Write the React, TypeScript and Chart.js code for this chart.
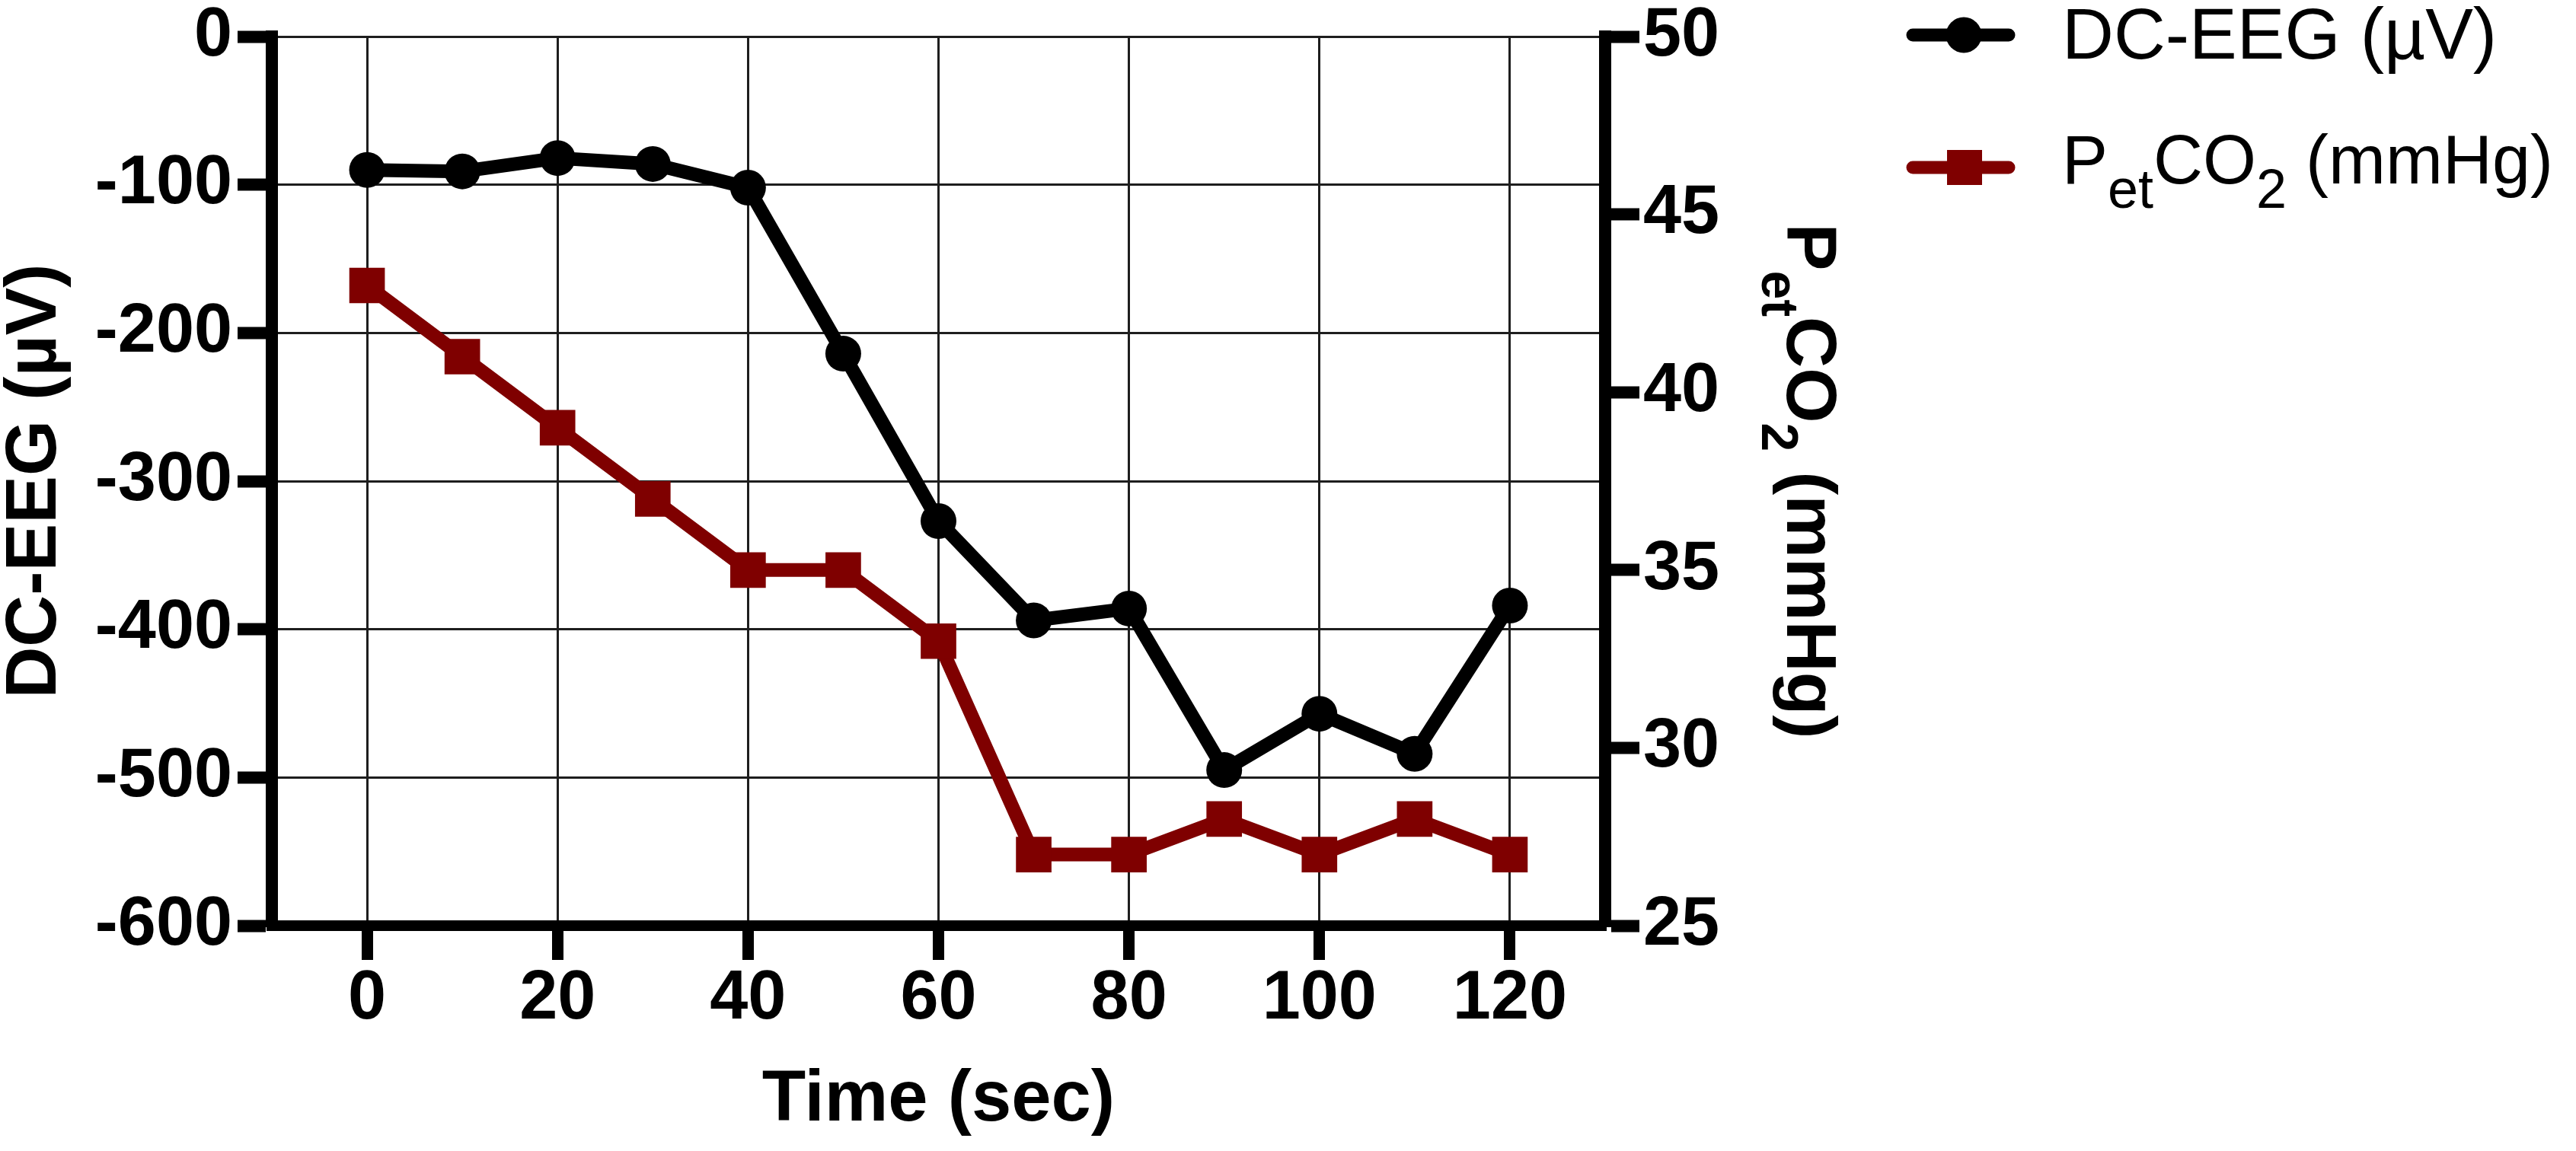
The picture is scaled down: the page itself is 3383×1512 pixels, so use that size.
import { useEffect, useRef } from "react";
import { Chart, registerables } from "chart.js";

Chart.register(...registerables);

// values
const TIME = [0, 10, 20, 30, 40, 50, 60, 70, 80, 90, 100, 110, 120];
const DC_EEG = [-90, -91, -82, -86, -102, -214, -327, -394, -386, -495, -457, -484, -384];
const PETCO2 = [43, 41, 39, 37, 35, 35, 33, 27, 27, 28, 27, 28, 27];

const X_TICKS = [0, 20, 40, 60, 80, 100, 120];
const EEG_TICKS = [-600, -500, -400, -300, -200, -100, 0];
const CO2_TICKS = [25, 30, 35, 40, 45, 50];

const FAMILY = "'Liberation Sans', Arial, Helvetica, sans-serif";
const RED = "#7f0000";
const GRID = "#1e1e1e";

type Run = { text: string; sub?: boolean };

const EEG_LABEL: Run[] = [{ text: "DC-EEG (µV)" }];
const CO2_LABEL: Run[] = [
  { text: "P" },
  { text: "et", sub: true },
  { text: "CO" },
  { text: "2", sub: true },
  { text: " (mmHg)" },
];

// text with subscripts, drawn from x along the baseline y
function drawRuns(ctx: CanvasRenderingContext2D, runs: Run[], x: number, y: number, main: string, sub: string, drop: number) {
  let cx = x;
  for (const r of runs) {
    ctx.font = r.sub ? sub : main;
    ctx.fillText(r.text, cx, r.sub ? y + drop : y);
    cx += ctx.measureText(r.text).width;
  }
}

function runsWidth(ctx: CanvasRenderingContext2D, runs: Run[], main: string, sub: string) {
  let w = 0;
  for (const r of runs) {
    ctx.font = r.sub ? sub : main;
    w += ctx.measureText(r.text).width;
  }
  return w;
}

const extras = {
  id: "extras",
  afterDraw(chart: Chart) {
    const { ctx, chartArea } = chart;
    const right = chartArea.right;
    const midY = (chartArea.top + chartArea.bottom) / 2;

    ctx.save();
    ctx.fillStyle = "#000";
    ctx.textBaseline = "alphabetic";
    ctx.textAlign = "left";

    // right axis title, rotated
    const tMain = `bold 93px ${FAMILY}`;
    const tSub = `bold 68px ${FAMILY}`;
    const tw = runsWidth(ctx, CO2_LABEL, tMain, tSub);
    ctx.translate(right + 239, midY);
    ctx.rotate(Math.PI / 2);
    drawRuns(ctx, CO2_LABEL, -tw / 2, 0, tMain, tSub, 33);
    ctx.restore();

    // legend
    ctx.save();
    const lx = right + 404;
    ctx.lineWidth = 17;
    ctx.lineCap = "round";

    ctx.strokeStyle = "#000";
    ctx.beginPath();
    ctx.moveTo(lx, 46);
    ctx.lineTo(lx + 126, 46);
    ctx.stroke();
    ctx.fillStyle = "#000";
    ctx.beginPath();
    ctx.arc(lx + 67, 46, 23.5, 0, Math.PI * 2);
    ctx.fill();
    drawRuns(ctx, EEG_LABEL, right + 600, 77, `94px ${FAMILY}`, `72px ${FAMILY}`, 32);

    ctx.strokeStyle = RED;
    ctx.beginPath();
    ctx.moveTo(lx, 220);
    ctx.lineTo(lx + 126, 220);
    ctx.stroke();
    ctx.fillStyle = RED;
    ctx.fillRect(lx + 68 - 23, 220 - 23, 46, 46);
    ctx.fillStyle = "#000";
    drawRuns(ctx, CO2_LABEL, right + 600, 241, `90px ${FAMILY}`, `72px ${FAMILY}`, 32);
    ctx.restore();
  },
};

const tickFont = { family: FAMILY, size: 90, weight: "bold" as const, lineHeight: 1 };
const titleFont = { family: FAMILY, size: 94, weight: "bold" as const, lineHeight: 1 };

export default function App() {
  const canvasRef = useRef<HTMLCanvasElement>(null);
  const chartRef = useRef<Chart | null>(null);

  useEffect(() => {
    document.body.style.margin = "0";
    if (!canvasRef.current) return;
    const ctx = canvasRef.current.getContext("2d");
    if (!ctx) return;

    chartRef.current = new Chart(ctx, {
      type: "line",
      data: {
        datasets: [
          {
            label: "DC-EEG (µV)",
            data: TIME.map((t, i) => ({ x: t, y: DC_EEG[i] })),
            yAxisID: "y",
            borderColor: "#000",
            backgroundColor: "#000",
            pointBackgroundColor: "#000",
            borderWidth: 18,
            borderJoinStyle: "round",
            pointRadius: 23.5,
            pointHoverRadius: 23.5,
            pointBorderWidth: 0,
            tension: 0,
          },
          {
            label: "PetCO2 (mmHg)",
            data: TIME.map((t, i) => ({ x: t, y: PETCO2[i] })),
            yAxisID: "y1",
            borderColor: RED,
            backgroundColor: RED,
            pointBackgroundColor: RED,
            borderWidth: 18,
            borderJoinStyle: "round",
            pointStyle: "rect",
            pointRadius: 33,
            pointHoverRadius: 33,
            pointBorderWidth: 0,
            tension: 0,
          },
        ],
      },
      options: {
        animation: false,
        responsive: true,
        maintainAspectRatio: false,
        layout: { padding: { top: 48, left: 0, right: 0, bottom: 0 } },
        plugins: {
          legend: { display: false },
          tooltip: { enabled: false },
        },
        scales: {
          x: {
            type: "linear",
            min: -10,
            max: 130,
            afterBuildTicks: (s: any) => {
              s.ticks = X_TICKS.map((value) => ({ value }));
            },
            afterFit: (s: any) => {
              s.height = 296;
              s.paddingLeft = 0;
              s.paddingRight = 0;
            },
            grid: { color: GRID, lineWidth: 3, tickLength: 45, tickWidth: 15, tickColor: "#000" },
            border: { color: "#000", width: 14 },
            ticks: { color: "#000", font: tickFont, padding: 7, maxRotation: 0, autoSkip: false },
            title: {
              display: true,
              text: "Time (sec)",
              color: "#000",
              font: titleFont,
              padding: { top: 0, bottom: 19 },
            },
          },
          y: {
            type: "linear",
            position: "left",
            min: -600,
            max: 0,
            afterBuildTicks: (s: any) => {
              s.ticks = EEG_TICKS.map((value) => ({ value }));
            },
            afterFit: (s: any) => {
              s.width = 357;
              s.paddingTop = 0;
              s.paddingBottom = 0;
            },
            grid: { color: GRID, lineWidth: 3, tickLength: 45, tickWidth: 16, tickColor: "#000" },
            border: { color: "#000", width: 16 },
            ticks: { color: "#000", font: tickFont, padding: 7, autoSkip: false },
            title: {
              display: true,
              text: "DC-EEG (µV)",
              color: "#000",
              font: titleFont,
              padding: { top: 0, bottom: 0 },
            },
          },
          y1: {
            type: "linear",
            position: "right",
            min: 25,
            max: 50,
            afterBuildTicks: (s: any) => {
              s.ticks = CO2_TICKS.map((value) => ({ value }));
            },
            afterFit: (s: any) => {
              s.width = 1275;
              s.paddingTop = 0;
              s.paddingBottom = 0;
            },
            grid: {
              drawOnChartArea: false,
              color: "#000",
              lineWidth: 3,
              tickLength: 45,
              tickWidth: 16,
              tickColor: "#000",
            },
            border: { color: "#000", width: 16 },
            ticks: { color: "#000", font: tickFont, padding: 5, autoSkip: false },
          },
        },
      },
      plugins: [extras],
    });

    return () => {
      if (chartRef.current) {
        chartRef.current.destroy();
        chartRef.current = null;
      }
    };
  }, []);

  return (
    <div style={{ position: "relative", width: 3383, height: 1512 }}>
      <canvas ref={canvasRef} />
    </div>
  );
}
